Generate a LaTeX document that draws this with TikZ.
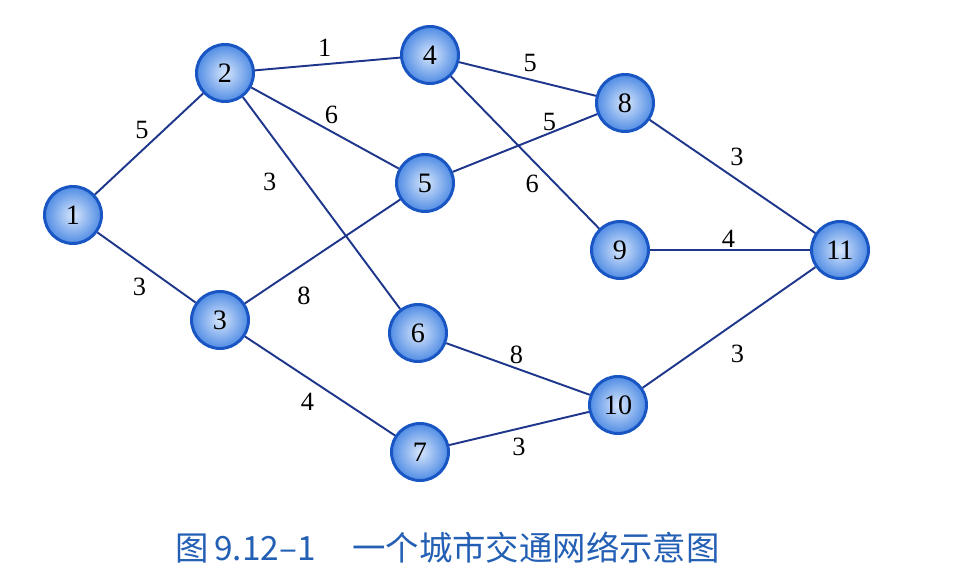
\documentclass[tikz,border=0pt]{standalone}
\usepackage{fontspec}
\setmainfont{Liberation Serif}
\newfontfamily\cjk{Noto Sans CJK SC}
\usepackage{tikz}
\usetikzlibrary{positioning}

\definecolor{rimblue}{RGB}{25,85,195}
\definecolor{ballin}{RGB}{215,230,252}
\definecolor{ballout}{RGB}{80,140,228}
\definecolor{roadblue}{RGB}{30,55,140}
\definecolor{capblue}{RGB}{35,95,180}

\begin{document}
\begin{tikzpicture}[
    city/.style={circle, draw=rimblue, line width=1.7pt, inner color=ballin, outer color=ballout,
                 minimum size=1.14cm, inner sep=0pt, font=\fontsize{16}{16}\selectfont},
    road/.style={draw=roadblue, line width=1.1pt},
    wt/.style={inner sep=1pt, font=\fontsize{15}{15}\selectfont}
]
\useasboundingbox (0,0) rectangle (19.34,11.5);

% --- Cities ---
\node[city] (c1) at (1.46, 7.20) {1};
\node[city] (c2) at (4.50,10.04) {2};
\node[city] (c3) at (4.40, 5.10) {3};
\node[city] (c4) at (8.60,10.40) {4};
\node[city] (c5) at (8.50, 7.84) {5};
\node[city] (c6) at (8.36, 4.84) {6};
\node[city] (c7) at (8.40, 2.46) {7};
\node[city] (c8) at (12.50,9.44) {8};
\node[city] (c9) at (12.40,6.50) {9};
\node[city] (c10) at (12.36,3.40) {10};
\node[city] (c11) at (16.80,6.50) {11};

% --- Roads ---
\draw[road] (c1) -- node[wt, pos=.52, above left=0pt] {5} (c2);
\draw[road] (c1) -- node[wt, pos=.56, below left=3pt] {3} (c3);
\draw[road] (c2) -- node[wt, pos=.48, above=3pt] {1} (c4);
\draw[road] (c2) -- node[wt, pos=.48, above right=0pt] {6} (c5);
\draw[road] (c2) -- node[wt, pos=.33, below left=2pt and 9pt] {3} (c6);
\draw[road] (c3) -- node[wt, pos=.32, below right=8pt and 0pt] {8} (c5);
\draw[road] (c3) -- node[wt, pos=.49, below left=3pt and 1pt] {4} (c7);
\draw[road] (c4) -- node[wt, pos=.52, above=3pt] {5} (c8);
\draw[road] (c4) -- node[wt, pos=.62, below left=1pt] {6} (c9);
\draw[road] (c5) -- node[wt, pos=.67, above=0pt] {5} (c8);
\draw[road] (c8) -- node[wt, pos=.46, above right=2pt and 1pt] {3} (c11);
\draw[road] (c9) -- node[wt, pos=.49, above=0pt] {4} (c11);
\draw[road] (c6) -- node[wt, pos=.49, above=1pt] {8} (c10);
\draw[road] (c7) -- node[wt, pos=.5, below=4pt] {3} (c10);
\draw[road] (c10) -- node[wt, pos=.475, below right=7pt and 2pt] {3} (c11);

% --- Caption ---
\node[text=capblue, font=\cjk\fontsize{19}{19}\selectfont] (cap) at (8.95,0.54)
    {图\,9.12–1\hspace{1.1em}一个城市交通网络示意图};

\end{tikzpicture}
\end{document}
